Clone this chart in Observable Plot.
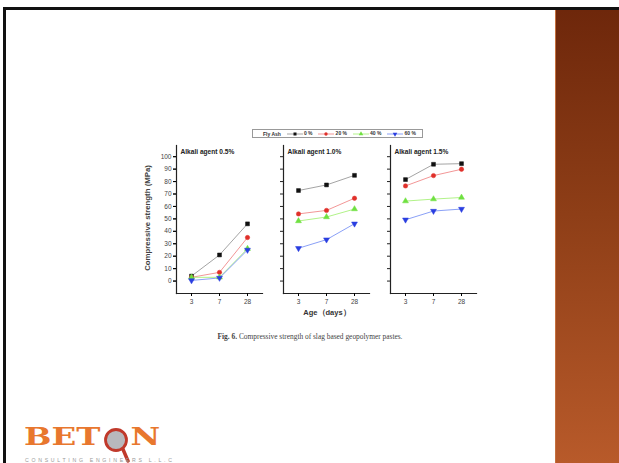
<!DOCTYPE html>
<html><head><meta charset="utf-8">
<script src="https://cdn.jsdelivr.net/npm/d3@7"></script>
<script src="https://cdn.jsdelivr.net/npm/@observablehq/plot@0.6"></script>
<style>
body{margin:0;background:#fff;font-family:"Liberation Sans",Arial,sans-serif;}
#slide{position:relative;width:619px;height:463px;overflow:hidden;background:#fff;}
#frame{position:absolute;left:3px;top:7px;width:640px;height:480px;border-top:3px solid #111;border-left:3px solid #111;}
#bar{position:absolute;left:555px;top:10px;width:64px;height:453px;background:linear-gradient(#6e270b,#8e3e17 45%,#b85a2a);border-left:1px solid #c4703f;}
#chart{position:absolute;left:140px;top:140px;}
#legend{position:absolute;left:252px;top:129px;width:171px;height:9px;border:1px solid #999;font-size:5px;font-weight:bold;color:#333;display:flex;align-items:center;justify-content:space-between;padding:0 6px 0 10px;box-sizing:border-box;white-space:nowrap;}
#legend svg{vertical-align:middle}
#ylabel{position:absolute;left:147px;top:218px;transform:translate(-50%,-50%) rotate(-90deg);font-size:7.8px;font-weight:bold;color:#444;white-space:nowrap;}
#xlabel{position:absolute;left:285px;top:308px;width:84px;text-align:center;font-size:7.5px;font-weight:bold;color:#333;}
#caption{position:absolute;left:180px;top:332px;width:260px;text-align:center;font-family:"Liberation Serif","DejaVu Serif",serif;font-size:7.4px;color:#444;}
#logo{position:absolute;left:24px;top:423px;font-family:"DejaVu Serif",serif;font-weight:bold;font-size:26px;color:#e8772e;line-height:30px;white-space:nowrap;transform:scale(1.25,0.9);transform-origin:left top;}
#logo .o{display:inline-block;width:24px;}
#mag{position:absolute;left:102px;top:427px;}
#sub{position:absolute;left:25px;top:457px;font-size:5.2px;letter-spacing:2.7px;color:#999;white-space:nowrap;}
</style></head>
<body><div id="slide">
<div id="frame"></div>
<div id="bar"></div>
<div id="legend"></div>
<div id="chart"></div>
<div id="ylabel">Compressive strength (MPa)</div>
<div id="xlabel">Age（days）</div>
<div id="caption"><b>Fig. 6.</b> Compressive strength of slag based geopolymer pastes.</div>
<div id="logo">BET<span class="o"></span>N</div>
<svg id="mag" width="36" height="36" viewBox="0 0 36 36"><line x1="20" y1="20" x2="26" y2="34" stroke="#c0392b" stroke-width="3.5" stroke-linecap="round"/><circle cx="14" cy="13" r="10.5" fill="#b8b8bc" stroke="#c0392b" stroke-width="2.8"/></svg>
<div id="sub">CONSULTING ENGINEERS L.L.C</div>
</div>
<script>
const ages = ["3", "7", "28"];
const panels = ["Alkali agent 0.5%", "Alkali agent 1.0%", "Alkali agent 1.5%"];
const series = ["0 %", "20 %", "40 %", "60 %"];
// values per panel (rows) and age (columns), MPa
const fa0  = [[4, 21, 46],   [72.8, 77.3, 85],   [81.6, 93.9, 94.4]];
const fa20 = [[3, 7, 35],    [54, 56.8, 66.6],   [76.5, 84.8, 89.9]];
const fa40 = [[3, 3, 26],    [48.3, 51.5, 57.9], [64.3, 65.9, 67.2]];
const fa60 = [[0.5, 2.5, 25],[26.4, 33.3, 46.1], [49.3, 56.3, 57.9]];
const yTicks = [0, 10, 20, 30, 40, 50, 60, 70, 80, 90, 100];

const lineColors = ["#9a9a9a", "#f08a8a", "#a8f07a", "#7d95f5"];
const markColors = ["#111111", "#e0302a", "#6fe040", "#2a3ee0"];
const downTri = {draw(c, size) {const y = -Math.sqrt(size / (Math.sqrt(3) * 3)); c.moveTo(0, -y * 2); c.lineTo(-Math.sqrt(3) * y, y); c.lineTo(Math.sqrt(3) * y, y); c.closePath();}};
const symbols = ["square", "circle", "triangle", downTri];

const all = [fa0, fa20, fa40, fa60];
const data = [];
series.forEach((s, si) => panels.forEach((p, pi) => ages.forEach((a, ai) => data.push({series: s, panel: p, age: a, v: all[si][pi][ai]}))));

const marks = [
  Plot.frame({anchor: "left", stroke: "#222", strokeWidth: 1.2}),
  Plot.frame({anchor: "bottom", stroke: "#222", strokeWidth: 1.2}),
  Plot.axisY({ticks: yTicks, tickSize: 3, tickFormat: () => "", facetAnchor: null, stroke: "#222", label: null}),
  Plot.axisY({ticks: yTicks, tickSize: 3, tickPadding: 2, fontSize: 6.5, fill: "#444", label: null}),
  Plot.axisX({tickSize: 3, tickPadding: 3, fontSize: 6.5, fill: "#444", label: null}),
  Plot.text(panels, {fx: d => d, text: d => d, frameAnchor: "top-left", dx: 4, dy: 4, fontSize: 6.6, fontWeight: "bold", fill: "#222"})
];
series.forEach((s, i) => {
  const d = data.filter(r => r.series === s);
  marks.push(Plot.line(d, {fx: "panel", x: "age", y: "v", stroke: lineColors[i], strokeWidth: 0.9}));
});
series.forEach((s, i) => {
  const d = data.filter(r => r.series === s);
  marks.push(Plot.dot(d, {fx: "panel", x: "age", y: "v", symbol: symbols[i], r: 2.2, fill: markColors[i], stroke: markColors[i], strokeWidth: 0.5}));
});

const chart = Plot.plot({
  width: 340, height: 173,
  marginLeft: 36, marginRight: 4, marginTop: 5, marginBottom: 20,
  style: {fontFamily: "Liberation Sans, Arial, sans-serif", fontSize: "6.5px", background: "transparent", overflow: "visible"},
  fx: {domain: panels, paddingInner: 0.2, paddingOuter: 0, axis: null, label: null},
  x: {type: "point", domain: ages, padding: 0.5, axis: null},
  y: {domain: [-10, 109], axis: null},
  marks
});
document.getElementById("chart").appendChild(chart);

// legend
const lg = document.getElementById("legend");
const title = document.createElement("span"); title.textContent = "Fly Ash"; lg.appendChild(title);
series.forEach((s, i) => {
  const item = document.createElement("span");
  const sym = d3.symbol(symbols[i] === downTri ? downTri : {square: d3.symbolSquare, circle: d3.symbolCircle, triangle: d3.symbolTriangle}[symbols[i]], 9)();
  item.innerHTML = `<svg width="16" height="6" viewBox="-8 -3 16 6"><line x1="-8" x2="8" stroke="${lineColors[i]}" stroke-width="0.9"/><path d="${sym}" fill="${markColors[i]}"/></svg> ${s}`;
  lg.appendChild(item);
});
</script>
</body></html>
